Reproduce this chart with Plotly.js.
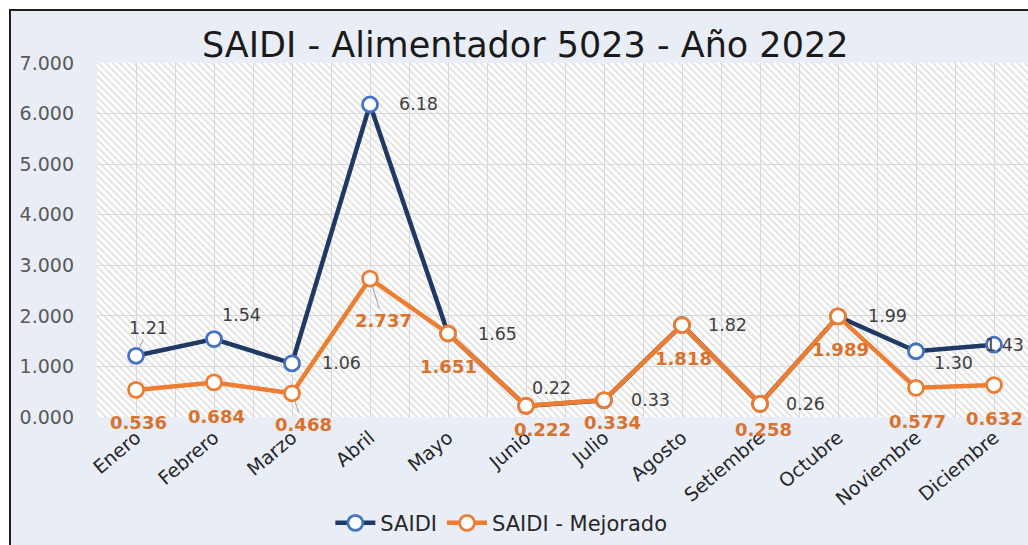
<!DOCTYPE html>
<html>
<head>
<meta charset="utf-8">
<script src="https://cdn.plot.ly/plotly-3.0.1.min.js"></script>
<style>
  html, body { margin:0; padding:0; background:#ffffff; width:1028px; height:545px; overflow:hidden; }
  #frame { position:absolute; left:9px; top:9px; width:1019px; height:536px; background:#e9edf6;
           border-left:2px solid #1e1e1e; border-top:2px solid #1e1e1e; box-sizing:border-box; }
  #chart { position:absolute; left:0; top:0; width:1040px; height:545px; }
</style>
</head>
<body>
<div id="frame"></div>
<div id="chart"></div>
<script>
const months = ['Enero','Febrero','Marzo','Abril','Mayo','Junio','Julio','Agosto','Setiembre','Octubre','Noviembre','Diciembre'];
const saidi = [1.21, 1.54, 1.06, 6.18, 1.65, 0.22, 0.33, 1.82, 0.26, 1.99, 1.30, 1.43];
const saidiMejorado = [0.536, 0.684, 0.468, 2.737, 1.651, 0.222, 0.334, 1.818, 0.258, 1.989, 0.577, 0.632];
const yTicks = [0, 1, 2, 3, 4, 5, 6, 7];
const seriesNames = ['SAIDI', 'SAIDI - Mejorado'];
const chartTitle = 'SAIDI - Alimentador 5023 - Año 2022';

// label placement (styling only): pixel offsets of each label from its point
const saidiLabelOffsets = [[12,-28],[27,-24],[49,0],[48,0],[49,0],[25,-18],[46,0],[45,0],[45,0],[49,0],[37,12],[10,0]];
const mejLabelOffsets = [[2,33],[2,34],[11,31],[13,42],[0,33],[16,24],[8,22],[1,33],[3,26],[2,33],[1,34],[0,33]];
const saidiLeader = [true,false,false,false,false,false,false,false,false,false,false,false];
const mejLeader = [false,false,true,true,false,false,false,false,false,false,false,false];

const xIdx = months.map((m, i) => i);

const NAVY = '#203864', NAVY_MK = '#4472c4', ORANGE = '#ed7d31', ORANGE_TXT = '#d8722c';

const traces = [
  {
    x: xIdx, y: saidi, name: seriesNames[0], type: 'scatter', mode: 'lines+markers',
    line: {color: NAVY, width: 4.5},
    marker: {symbol: 'circle', size: 15, color: '#ffffff', line: {color: NAVY_MK, width: 2.8}},
    hoverinfo: 'skip'
  },
  {
    x: xIdx, y: saidiMejorado, name: seriesNames[1], type: 'scatter', mode: 'lines+markers',
    line: {color: ORANGE, width: 4.5},
    marker: {symbol: 'circle', size: 15, color: '#ffffff', line: {color: ORANGE, width: 2.8}},
    hoverinfo: 'skip'
  }
];

const annotations = [];
saidi.forEach((v, i) => {
  annotations.push({
    x: xIdx[i], y: v, xref: 'x', yref: 'y', text: v.toFixed(2),
    showarrow: true, ax: saidiLabelOffsets[i][0], ay: saidiLabelOffsets[i][1],
    arrowhead: 0, arrowwidth: 1, standoff: 8,
    arrowcolor: saidiLeader[i] ? '#a0a0a0' : 'rgba(0,0,0,0)',
    font: {family: 'DejaVu Sans', size: 17.5, color: '#404040'}
  });
});
saidiMejorado.forEach((v, i) => {
  annotations.push({
    x: xIdx[i], y: v, xref: 'x', yref: 'y', text: '<b>' + v.toFixed(3) + '</b>',
    showarrow: true, ax: mejLabelOffsets[i][0], ay: mejLabelOffsets[i][1],
    arrowhead: 0, arrowwidth: 1, standoff: 8,
    arrowcolor: mejLeader[i] ? '#a0a0a0' : 'rgba(0,0,0,0)',
    font: {family: 'DejaVu Sans', size: 18, color: ORANGE_TXT}
  });
});

const hatchSvg = "<svg xmlns='http://www.w3.org/2000/svg' width='936' height='354'>" +
  "<defs><pattern id='h' width='5' height='5' patternUnits='userSpaceOnUse' patternTransform='rotate(-45)'>" +
  "<rect width='5' height='5' fill='#ffffff'/><rect width='2' height='5' fill='#e4e4e4'/></pattern></defs>" +
  "<rect width='100%' height='100%' fill='url(#h)'/></svg>";

const layout = {
  width: 1040, height: 545,
  margin: {l: 97, r: 7, t: 63, b: 128, autoexpand: false},
  paper_bgcolor: 'rgba(0,0,0,0)',
  plot_bgcolor: 'rgba(0,0,0,0)',
  title: {
    text: chartTitle, x: 0.505, xanchor: 'center', xref: 'container',
    y: 0.918, yanchor: 'middle', yref: 'container',
    font: {family: 'DejaVu Sans', size: 35, color: '#1a1a1a'}
  },
  images: [{
    source: 'data:image/svg+xml;charset=utf-8,' + encodeURIComponent(hatchSvg),
    xref: 'paper', yref: 'paper', x: 0, y: 1, sizex: 1, sizey: 1,
    xanchor: 'left', yanchor: 'top', sizing: 'stretch', layer: 'below'
  }],
  xaxis: {
    type: 'linear', range: [-0.5, 11.5], fixedrange: true, automargin: false,
    tickmode: 'array', tickvals: xIdx, ticktext: months,
    tickangle: -40, ticks: '', ticklabelstandoff: 5,
    showgrid: true, gridcolor: '#d9d9d9', gridwidth: 1,
    minor: {tickmode: 'linear', tick0: 0.5, dtick: 1, showgrid: true, gridcolor: '#d9d9d9', gridwidth: 1, ticks: ''},
    zeroline: false, showline: false,
    tickfont: {family: 'DejaVu Sans', size: 19, color: '#262626'}
  },
  yaxis: {
    range: [0, 7], fixedrange: true, automargin: false,
    tickmode: 'array', tickvals: yTicks, tickformat: '.3f',
    ticks: '', ticklabelstandoff: 22,
    showgrid: true, gridcolor: '#d9d9d9', gridwidth: 1,
    zeroline: false, showline: false,
    tickfont: {family: 'DejaVu Sans', size: 19, color: '#595959'}
  },
  showlegend: true,
  legend: {
    orientation: 'h', x: 0.432, xanchor: 'center', y: -0.30, yanchor: 'middle',
    font: {family: 'DejaVu Sans', size: 21, color: '#262626'},
    bgcolor: 'rgba(0,0,0,0)', itemwidth: 40
  },
  annotations: annotations
};

Plotly.newPlot('chart', traces, layout, {displayModeBar: false, staticPlot: true});
</script>
</body>
</html>
